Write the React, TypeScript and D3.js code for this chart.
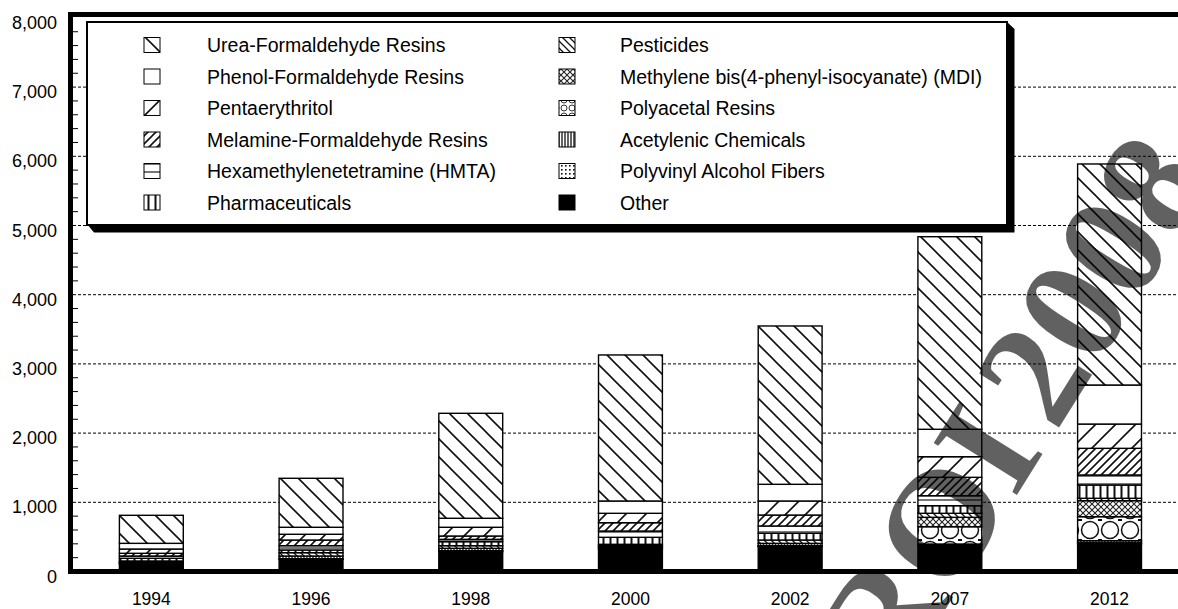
import React from 'react';
import * as d3 from 'd3';

// years on the x axis
const years = ['1994', '1996', '1998', '2000', '2002', '2007', '2012'];

// values (thousand tons), one array per series
const ureaFormaldehyde = [405, 708, 1517, 2110, 2288, 2783, 3194];
const phenolFormaldehyde = [82, 101, 130, 178, 241, 396, 564];
const pentaerythritol = [62, 83, 126, 136, 203, 298, 351];
const melamineFormaldehyde = [39, 82, 48, 120, 158, 266, 385];
const hmta = [33, 62, 34, 91, 106, 144, 145];
const pharmaceuticals = [39, 39, 58, 101, 97, 110, 192];
const pesticides = [20, 48, 38, 20, 48, 58, 35];
const mdi = [0, 0, 0, 15, 34, 136, 231];
const polyacetal = [0, 0, 0, 0, 0, 250, 347];
const acetylenic = [12, 39, 34, 18, 8, 10, 30];
const pvaFibers = [12, 9, 15, 15, 6, 8, 18];
const other = [108, 176, 286, 325, 359, 379, 397];

const yTicks = [0, 1000, 2000, 3000, 4000, 5000, 6000, 7000, 8000];

// legend order (left column then right column); the stack runs the other way
const series = [
  { key: 'urea', name: 'Urea-Formaldehyde Resins', values: ureaFormaldehyde },
  { key: 'phenol', name: 'Phenol-Formaldehyde Resins', values: phenolFormaldehyde },
  { key: 'penta', name: 'Pentaerythritol', values: pentaerythritol },
  { key: 'melamine', name: 'Melamine-Formaldehyde Resins', values: melamineFormaldehyde },
  { key: 'hmta', name: 'Hexamethylenetetramine (HMTA)', values: hmta },
  { key: 'pharma', name: 'Pharmaceuticals', values: pharmaceuticals },
  { key: 'pest', name: 'Pesticides', values: pesticides },
  { key: 'mdi', name: 'Methylene bis(4-phenyl-isocyanate) (MDI)', values: mdi },
  { key: 'poly', name: 'Polyacetal Resins', values: polyacetal },
  { key: 'acet', name: 'Acetylenic Chemicals', values: acetylenic },
  { key: 'pva', name: 'Polyvinyl Alcohol Fibers', values: pvaFibers },
  { key: 'other', name: 'Other', values: other },
];

const W = 1178;
const H = 609;
const FONT = '"Liberation Sans", Arial, sans-serif';

function back(s: number, w: number, id: string) {
  // "\" lines
  const d = [-1, 0, 1].map(k => `M${-s},${-s + k * s}L${2 * s},${2 * s + k * s}`).join('');
  return (
    <pattern id={id} key={id} width={s} height={s} patternUnits="userSpaceOnUse">
      <rect width={s} height={s} fill="#fff" />
      <path d={d} stroke="#111" strokeWidth={w} />
    </pattern>
  );
}

function fwd(s: number, w: number, id: string) {
  // "/" lines
  const d = [0, 1, 2].map(k => `M${-s},${k * s + s}L${2 * s},${k * s - 2 * s}`).join('');
  return (
    <pattern id={id} key={id} width={s} height={s} patternUnits="userSpaceOnUse">
      <rect width={s} height={s} fill="#fff" />
      <path d={d} stroke="#111" strokeWidth={w} />
    </pattern>
  );
}

function Patterns() {
  return (
    <defs>
      {back(18, 1.6, 'p-urea')}
      {fwd(20, 1.6, 'p-penta')}
      {fwd(8, 1.6, 'p-melamine')}
      {back(7, 1.3, 'p-pest')}
      <pattern id="p-phenol" width={4} height={4} patternUnits="userSpaceOnUse">
        <rect width={4} height={4} fill="#fff" />
      </pattern>
      <pattern id="p-hmta" width={8} height={8} patternUnits="userSpaceOnUse">
        <rect width={8} height={8} fill="#fff" />
        <path d="M0,4H8" stroke="#777" strokeWidth={2} />
      </pattern>
      <pattern id="p-pharma" width={7} height={7} patternUnits="userSpaceOnUse">
        <rect width={7} height={7} fill="#fff" />
        <path d="M1.5,0V7" stroke="#111" strokeWidth={2} />
      </pattern>
      <pattern id="p-mdi" width={6} height={6} patternUnits="userSpaceOnUse">
        <rect width={6} height={6} fill="#fff" />
        <path d="M0,0L6,6M6,0L0,6" stroke="#222" strokeWidth={1.1} />
      </pattern>
      <pattern id="p-poly" width={20} height={20} patternUnits="userSpaceOnUse">
        <rect width={20} height={20} fill="#fff" />
        <circle cx={10} cy={10} r={8.5} fill="none" stroke="#111" strokeWidth={1.5} />
        <path d="M0,0h2M18,0h2M0,20h2M18,20h2" stroke="#111" strokeWidth={2} />
      </pattern>
      <pattern id="p-poly-leg" width={8} height={8} patternUnits="userSpaceOnUse">
        <rect width={8} height={8} fill="#fff" />
        <circle cx={4} cy={4} r={3} fill="none" stroke="#333" strokeWidth={1} />
      </pattern>
      <pattern id="p-acet" width={3} height={3} patternUnits="userSpaceOnUse">
        <rect width={3} height={3} fill="#fff" />
        <path d="M1,0V3" stroke="#111" strokeWidth={1.3} />
      </pattern>
      <pattern id="p-pva" width={4} height={4} patternUnits="userSpaceOnUse">
        <rect width={4} height={4} fill="#fff" />
        <rect x={1} y={1} width={1.6} height={1.6} fill="#111" />
      </pattern>
      <pattern id="p-other" width={4} height={4} patternUnits="userSpaceOnUse">
        <rect width={4} height={4} fill="#000" />
      </pattern>
    </defs>
  );
}

export default function App() {
  const x = d3.scaleBand().domain(years).range([71.5, 1189.4]).paddingInner(0.6).paddingOuter(0.3);
  const y = d3.scaleLinear().domain([0, 8000]).range([571.5, 17.9]);

  const table = years.map((yr, i) => {
    const row: any = { year: yr };
    series.forEach(s => { row[s.key] = s.values[i]; });
    return row;
  });
  const stackKeys = series.map(s => s.key).reverse();
  const stacked = d3.stack().keys(stackKeys)(table);

  const minor = d3.range(200, 8000, 200).filter(v => v % 1000 !== 0);

  const legendRows = 6;
  const rowY = (i: number) => 45 + (i % legendRows) * 31.5;

  return (
    <svg width={W} height={H} style={{ position: 'absolute', left: 0, top: 0, background: '#fff' }}
      fontFamily={FONT}>
      <Patterns />
      <rect width={W} height={H} fill="#fff" />

      {/* grid lines */}
      {yTicks.filter(v => v > 0 && v < 8000).map(v => (
        <line key={v} x1={73} x2={W} y1={y(v)} y2={y(v)} stroke="#000" strokeWidth={1}
          strokeDasharray="3,2" />
      ))}
      {minor.map(v => (
        <line key={'m' + v} x1={73} x2={78} y1={y(v)} y2={y(v)} stroke="#000" strokeWidth={1} />
      ))}

      {/* stacked bars */}
      {stacked.map(layer => (
        <g key={layer.key}>
          {layer.map((d, i) => {
            const h = y(d[0]) - y(d[1]);
            if (h <= 0) return null;
            return (
              <rect key={i} x={x(years[i])} y={y(d[1])} width={x.bandwidth()} height={h}
                fill={`url(#p-${layer.key})`} stroke="#000" strokeWidth={1.4} />
            );
          })}
        </g>
      ))}

      {/* legend */}
      <polygon points="87,224 94,232.5 1014.5,232.5 1014.5,29 1007,22 1007,224" fill="#000" />
      <rect x={87} y={22} width={920} height={203} fill="#fff" stroke="#000" strokeWidth={2} />
      {series.map((s, i) => {
        const col = i < legendRows ? 0 : 1;
        const cy = rowY(i);
        const sx = col === 0 ? 144 : 559;
        const tx = col === 0 ? 207 : 620;
        const fill = s.key === 'poly' ? 'url(#p-poly-leg)' : `url(#p-${s.key})`;
        return (
          <g key={s.key}>
            <rect x={sx} y={cy - 7.5} width={16} height={15} fill={fill}
              stroke="#000" strokeWidth={1} />
            <text x={tx} y={cy + 7} fontSize={19.5} fill="#000">{s.name}</text>
          </g>
        );
      })}

      {/* frame */}
      <line x1={70.5} x2={70.5} y1={12} y2={574} stroke="#000" strokeWidth={5} />
      <line x1={68} x2={W} y1={14.5} y2={14.5} stroke="#000" strokeWidth={5} />
      <line x1={68} x2={W} y1={571.5} y2={571.5} stroke="#000" strokeWidth={5} />

      {/* axis labels */}
      {yTicks.map(v => (
        <text key={'y' + v} x={57} y={y(v) + 11} textAnchor="end" fontSize={18} fill="#000">
          {d3.format(',')(v)}
        </text>
      ))}
      {years.map(yr => (
        <text key={'x' + yr} x={(x(yr) as number) + x.bandwidth() / 2} y={605} textAnchor="middle"
          fontSize={17.5} fill="#000">{yr}</text>
      ))}

      {/* watermark */}
      <text x={0} y={0} transform="translate(895,690) rotate(-58)" fontSize={150}
        fontFamily='"Liberation Serif", serif' fontWeight="bold" fill="#000" fillOpacity={0.62}>
        <tspan>ROI</tspan><tspan dx={20}>2008</tspan>
      </text>
    </svg>
  );
}
